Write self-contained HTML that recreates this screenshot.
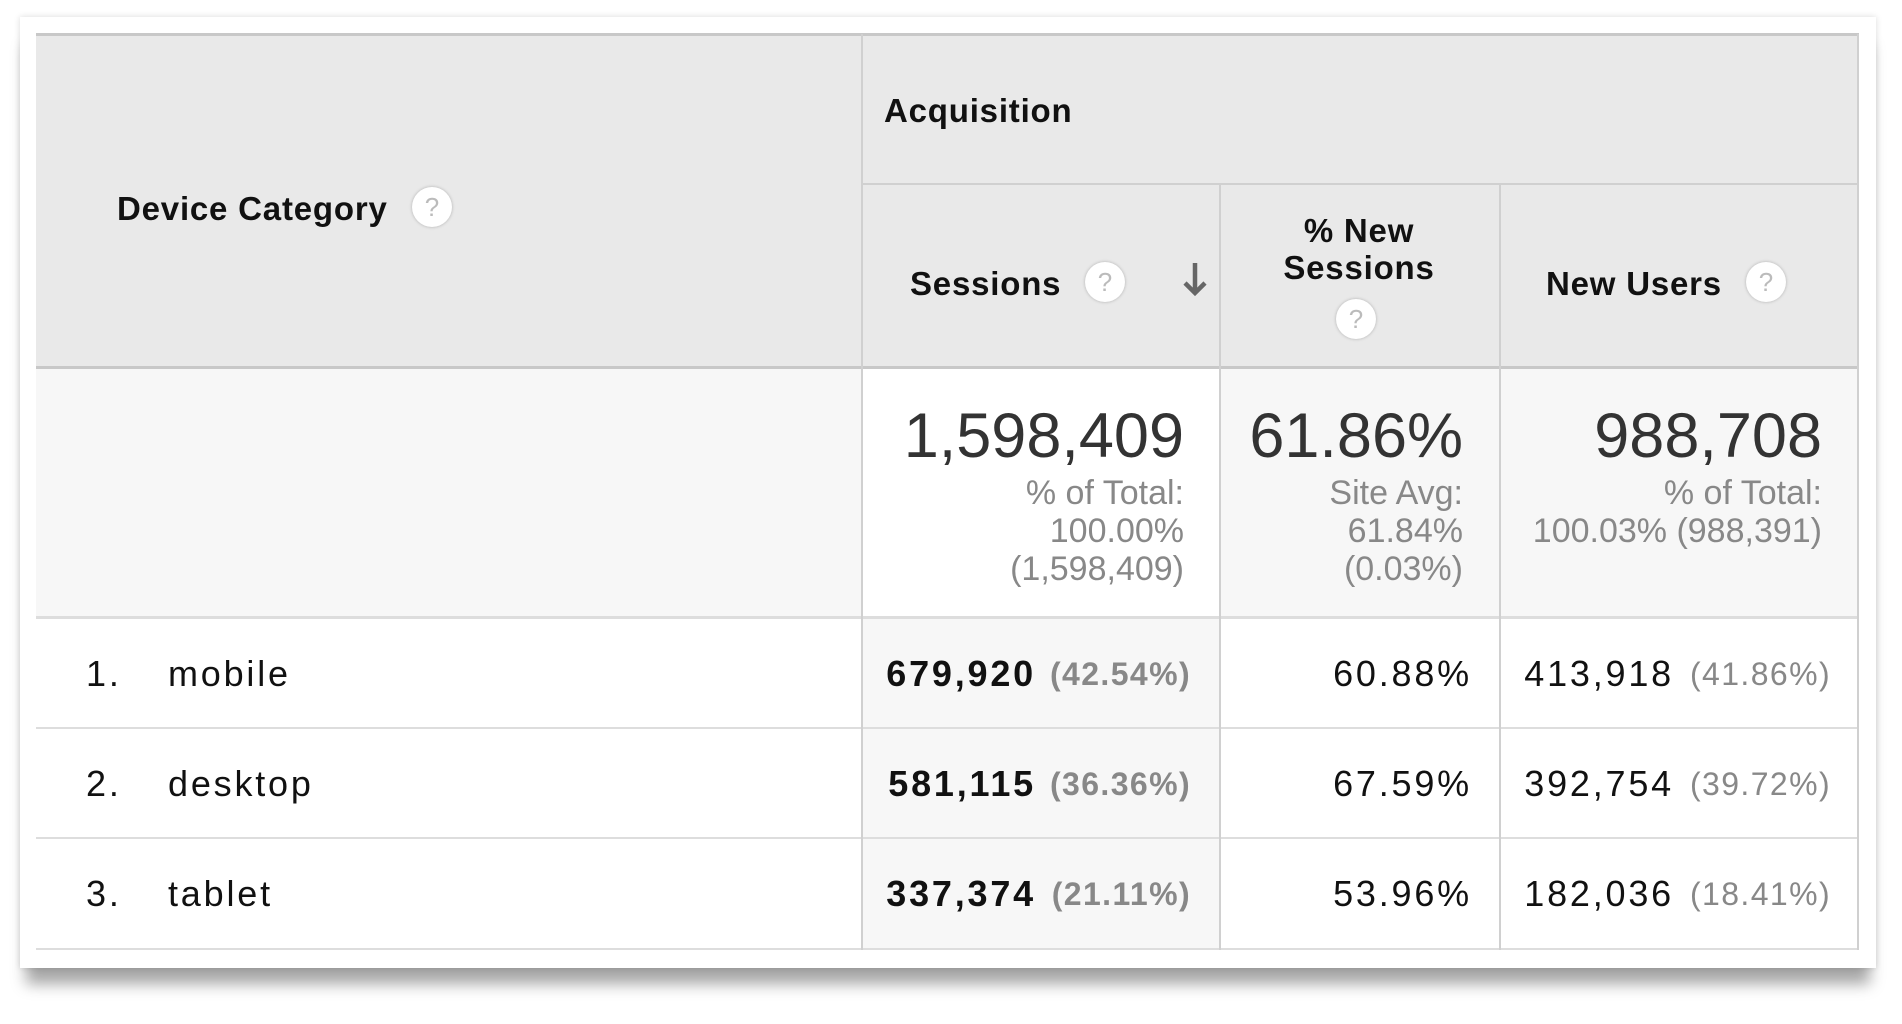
<!DOCTYPE html>
<html><head><meta charset="utf-8"><style>
body{margin:0;width:1902px;height:1024px;background:#fff;position:relative;overflow:hidden;font-family:"Liberation Sans",Arial,sans-serif}
.a{position:absolute}
.card{left:20px;top:17px;width:1856px;height:951px;background:#fff;box-shadow:0 22px 14px -6px rgba(0,0,0,.35),0 0 6px rgba(0,0,0,.15)}
.bg{position:absolute}
.hl{position:absolute;height:2px;background:#d0d0d0}
.vl{position:absolute;width:2px;background:#d0d0d0}
.t{position:absolute;white-space:nowrap;line-height:1}
.h{font-weight:bold;font-size:33px;color:#111;letter-spacing:0.8px}
.q{position:absolute;width:40px;height:40px;border-radius:50%;background:#fff;box-shadow:0 0 3px rgba(0,0,0,.25);color:#bbb;font-size:26px;text-align:center;line-height:40px}
.r{text-align:right}
.big{font-size:63px;color:#333}
.sub{font-size:34px;color:#888;line-height:38px}
.v{font-size:36px;color:#111;letter-spacing:2.8px}
.p{font-size:32px;color:#888;letter-spacing:1.4px}
</style></head><body>
<div class="a card"></div>
<div class="bg" style="left:36px;top:34px;width:1821px;height:332px;background:#e9e9e9"></div>
<div class="bg" style="left:36px;top:366px;width:1821px;height:251px;background:#f7f7f7"></div>
<div class="bg" style="left:861px;top:366px;width:358px;height:251px;background:#fff"></div>
<div class="bg" style="left:36px;top:617px;width:1821px;height:331px;background:#fff"></div>
<div class="bg" style="left:861px;top:617px;width:358px;height:331px;background:#f7f7f7"></div>
<div class="hl" style="left:36px;top:33px;width:1823px;height:3px;background:#c8c8c8"></div>
<div class="hl" style="left:861px;top:183px;width:996px"></div>
<div class="hl" style="left:36px;top:366px;width:1821px;height:3px;background:#c8c8c8"></div>
<div class="hl" style="left:36px;top:616px;width:1821px;height:3px;background:#ddd"></div>
<div class="hl" style="left:36px;top:727px;width:1821px;background:#ddd"></div>
<div class="hl" style="left:36px;top:837px;width:1821px;background:#ddd"></div>
<div class="hl" style="left:36px;top:948px;width:1823px;background:#ddd"></div>
<div class="vl" style="left:861px;top:34px;height:916px"></div>
<div class="vl" style="left:1219px;top:183px;height:767px"></div>
<div class="vl" style="left:1499px;top:183px;height:767px"></div>
<div class="vl" style="left:1857px;top:34px;height:916px"></div>
<div class="t h" style="left:117px;top:192px">Device Category</div>
<div class="q" style="left:412px;top:187px">?</div>
<div class="t h" style="left:884px;top:94px">Acquisition</div>
<div class="t h" style="left:910px;top:267px">Sessions</div>
<div class="q" style="left:1085px;top:262px">?</div>
<svg class="a" style="left:1180px;top:260px" width="30" height="38" viewBox="0 0 30 38"><path d="M15 3V33M5 23L15 33L25 23" stroke="#666" stroke-width="4.5" fill="none"/></svg>
<div class="t h" style="left:1219px;width:280px;top:214px;text-align:center">% New</div>
<div class="t h" style="left:1219px;width:280px;top:251px;text-align:center">Sessions</div>
<div class="q" style="left:1336px;top:299px">?</div>
<div class="t h" style="left:1546px;top:267px">New Users</div>
<div class="q" style="left:1746px;top:262px">?</div>
<div class="t big r" style="right:718px;top:405px">1,598,409</div>
<div class="t sub r" style="right:718px;top:474px">% of Total:<br>100.00%<br>(1,598,409)</div>
<div class="t big r" style="right:439px;top:405px">61.86%</div>
<div class="t sub r" style="right:439px;top:474px">Site Avg:<br>61.84%<br>(0.03%)</div>
<div class="t big r" style="right:80px;top:405px">988,708</div>
<div class="t sub r" style="right:80px;top:474px">% of Total:<br>100.03% (988,391)</div>

<div class="t v" style="left:86px;top:656px">1.</div><div class="t v" style="left:168px;top:656px">mobile</div>
<div class="t v" style="left:86px;top:766px">2.</div><div class="t v" style="left:168px;top:766px">desktop</div>
<div class="t v" style="left:86px;top:876px">3.</div><div class="t v" style="left:168px;top:876px">tablet</div>

<div class="t v r" style="right:866px;top:656px;font-weight:bold">679,920</div><div class="t p r" style="right:711px;top:658px;font-weight:bold">(42.54%)</div>
<div class="t v r" style="right:866px;top:766px;font-weight:bold">581,115</div><div class="t p r" style="right:711px;top:768px;font-weight:bold">(36.36%)</div>
<div class="t v r" style="right:866px;top:876px;font-weight:bold">337,374</div><div class="t p r" style="right:711px;top:878px;font-weight:bold">(21.11%)</div>

<div class="t v r" style="right:430px;top:656px">60.88%</div>
<div class="t v r" style="right:430px;top:766px">67.59%</div>
<div class="t v r" style="right:430px;top:876px">53.96%</div>

<div class="t v r" style="right:228px;top:656px">413,918</div><div class="t p r" style="right:71px;top:658px">(41.86%)</div>
<div class="t v r" style="right:228px;top:766px">392,754</div><div class="t p r" style="right:71px;top:768px">(39.72%)</div>
<div class="t v r" style="right:228px;top:876px">182,036</div><div class="t p r" style="right:71px;top:878px">(18.41%)</div>
</body></html>
